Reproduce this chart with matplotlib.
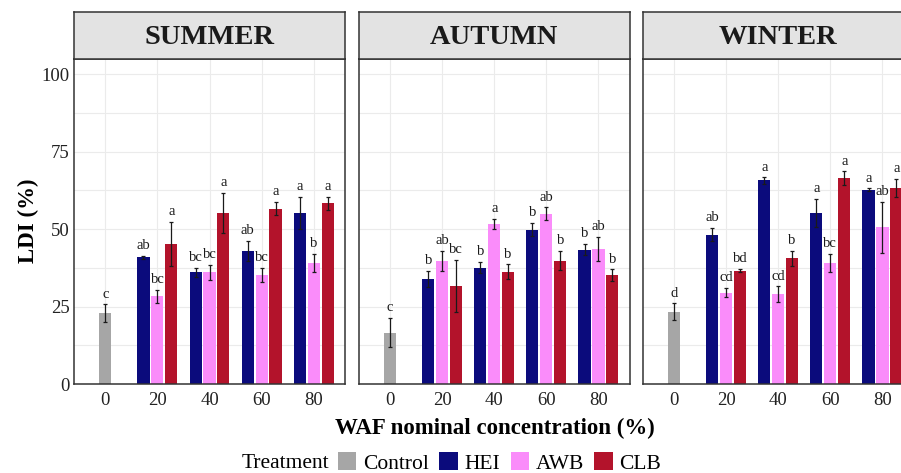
import matplotlib
matplotlib.use("Agg")
import matplotlib.pyplot as plt
from matplotlib.patches import Patch
from matplotlib.ticker import MultipleLocator
import numpy as np

plt.rcParams['font.family'] = ['Liberation Serif', 'DejaVu Serif']

# LDI (%) per season, mean +/- SE with Tukey letters
seasons = ['SUMMER', 'AUTUMN', 'WINTER']
concentrations = ['0', '20', '40', '60', '80']
treatments = ['Control', 'HEI', 'AWB', 'CLB']
colors = ['#A6A6A6', '#0B0B7C', '#FA8CFA', '#B3132B']

control_mean = [22.8, 16.6, 23.4]
control_se = [2.9, 4.7, 2.6]
control_letters = ['c', 'c', 'd']

hei_mean = [[40.9, 36.0, 43.0, 55.2], [33.9, 37.6, 49.8, 43.3], [48.2, 65.7, 55.2, 62.7]]
hei_se = [[0.4, 1.4, 3.2, 5.1], [2.5, 1.9, 2.1, 1.8], [2.2, 1.0, 4.6, 0.4]]
hei_letters = [['ab', 'bc', 'ab', 'a'], ['b', 'b', 'b', 'b'], ['ab', 'a', 'a', 'a']]

awb_mean = [[28.3, 36.0, 35.3, 39.0], [39.8, 51.7, 54.9, 43.6], [29.5, 29.0, 39.0, 50.6]]
awb_se = [[2.0, 2.4, 2.3, 3.0], [3.2, 1.7, 2.1, 3.8], [1.4, 2.5, 3.0, 8.2]]
awb_letters = [['bc', 'bc', 'bc', 'b'], ['ab', 'a', 'ab', 'ab'], ['cd', 'cd', 'bc', 'ab']]

clb_mean = [[45.2, 55.2, 56.6, 58.4], [31.7, 36.2, 39.8, 35.2], [36.6, 40.6, 66.4, 63.3]]
clb_se = [[7.0, 6.6, 2.1, 2.1], [8.3, 2.4, 3.1, 1.8], [0.5, 2.4, 2.2, 2.9]]
clb_letters = [['a', 'a', 'a', 'a'], ['bc', 'b', 'b', 'b'], ['bd', 'b', 'a', 'a']]

W, H = 901, 473
fig = plt.figure(figsize=(W / 100, H / 100), dpi=100)

panel_left = [74, 358.7, 642.7]
panel_w = 271
panel_top, panel_bottom = 59.3, 384
strip_top = 12

dodge = 0.8 / 3
bar_w = 0.7 / 3
x = np.arange(len(concentrations))


def draw_bar(ax, xpos, mean, se, letter, color):
    ax.bar(xpos, mean, width=bar_w, color=color, zorder=2)
    ax.errorbar(xpos, mean, yerr=se, fmt='none', ecolor='#1a1a1a',
                elinewidth=0.9, capsize=1.6, capthick=0.9, zorder=3)
    ax.text(xpos, mean + se + 2.2, letter, ha='center', va='baseline',
            fontsize=10.5, color='#1a1a1a', zorder=4)


for i, season in enumerate(seasons):
    ax = fig.add_axes([panel_left[i] / W, (H - panel_bottom) / H,
                       panel_w / W, (panel_bottom - panel_top) / H])
    ax.set_xlim(-0.6, 4.6)
    ax.set_ylim(0, 104.8)
    ax.yaxis.set_major_locator(MultipleLocator(25))
    ax.yaxis.set_minor_locator(MultipleLocator(12.5))
    ax.grid(True, which='both', axis='y', color='#EBEBEB', lw=0.8, zorder=0)
    ax.grid(True, which='major', axis='x', color='#EBEBEB', lw=0.8, zorder=0)
    ax.set_axisbelow(True)
    for s in ax.spines.values():
        s.set_color('#333333')
        s.set_linewidth(1.1)
    ax.set_xticks(x)
    ax.set_xticklabels(concentrations)
    ax.tick_params(axis='both', which='both', length=0, labelsize=13.5,
                   colors='#222222')
    ax.tick_params(axis='x', pad=6)
    ax.tick_params(axis='y', pad=3)
    if i > 0:
        ax.set_yticklabels([])

    draw_bar(ax, 0, control_mean[i], control_se[i], control_letters[i], colors[0])
    for j in range(4):
        draw_bar(ax, x[j + 1] - dodge, hei_mean[i][j], hei_se[i][j], hei_letters[i][j], colors[1])
        draw_bar(ax, x[j + 1], awb_mean[i][j], awb_se[i][j], awb_letters[i][j], colors[2])
        draw_bar(ax, x[j + 1] + dodge, clb_mean[i][j], clb_se[i][j], clb_letters[i][j], colors[3])

    # facet strip
    sax = fig.add_axes([panel_left[i] / W, (H - panel_top) / H,
                        panel_w / W, (panel_top - strip_top) / H])
    sax.set_facecolor('#E3E3E3')
    sax.set_xticks([])
    sax.set_yticks([])
    for s in sax.spines.values():
        s.set_color('#333333')
        s.set_linewidth(1.1)
    sax.text(0.5, 0.47, season, ha='center', va='center', fontsize=20.5,
             fontweight='bold', color='#1a1a1a', transform=sax.transAxes)

fig.text(28 / W, 1 - 221 / H, 'LDI (%)', rotation=90, ha='center', va='center',
         fontsize=16.5, fontweight='bold')
fig.text(495 / W, 1 - 428 / H, 'WAF nominal concentration (%)', ha='center',
         va='center', fontsize=16.5, fontweight='bold')

fig.text(285 / W, 1 - 463 / H, 'Treatment', ha='center', va='center', fontsize=15.5)
handles = [Patch(facecolor=c, edgecolor='none') for c in colors]
fig.legend(handles, treatments, loc='center left', bbox_to_anchor=(338 / W, 1 - 463 / H),
           ncol=4, frameon=False, fontsize=15.5, handlelength=0.85, handleheight=0.85,
           handletextpad=0.3, columnspacing=0.5, borderpad=0, borderaxespad=0)

fig.savefig('out.png', dpi=100)
